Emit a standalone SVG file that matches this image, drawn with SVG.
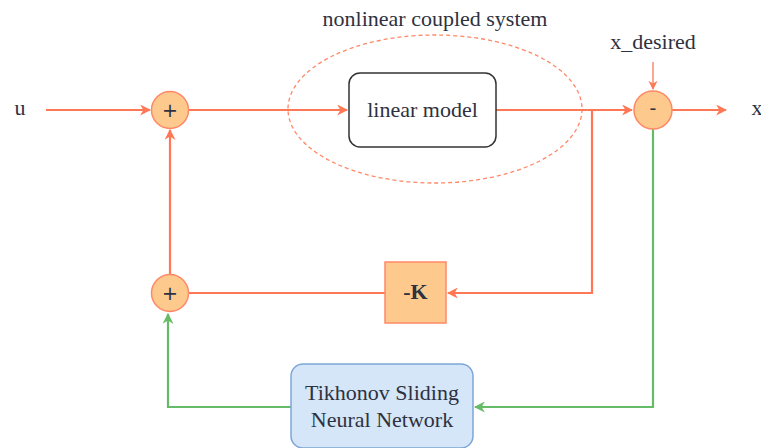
<svg xmlns="http://www.w3.org/2000/svg" width="761" height="448" viewBox="0 0 761 448">
  <defs>
    <marker id="arrO" viewBox="0 0 10 10" refX="9" refY="5" markerWidth="5" markerHeight="5" orient="auto" markerUnits="strokeWidth">
      <path d="M0,0 L10,5 L0,10 L3,5 Z" fill="#FF7755"/>
    </marker>
    <marker id="arrOs" viewBox="0 0 10 10" refX="9" refY="5" markerWidth="7" markerHeight="7" orient="auto" markerUnits="strokeWidth">
      <path d="M0,0 L10,5 L0,10 L3,5 Z" fill="#FF7755"/>
    </marker>
    <marker id="arrG" viewBox="0 0 10 10" refX="9" refY="5" markerWidth="5" markerHeight="5" orient="auto" markerUnits="strokeWidth">
      <path d="M0,0 L10,5 L0,10 L3,5 Z" fill="#66BB66"/>
    </marker>
  </defs>
  <style>
    .txt { font-family: "Liberation Serif", "DejaVu Serif", serif; fill: #2E3140; font-size: 22px; }
    .sign { font-family: "DejaVu Sans", sans-serif; fill: #2E3140; font-size: 19px; }
    .sum { fill: #FDC98D; stroke: #FF8866; stroke-width: 1.5; }
    .wire { fill: none; stroke: #FF7755; stroke-width: 2.2; }
    .wire-thin { fill: none; stroke: #FF7755; stroke-width: 1.3; }
    .fb { fill: none; stroke: #66BB66; stroke-width: 2.2; }
  </style>
  <rect width="761" height="448" fill="#FFFFFF"/>

  <!-- plant boundary -->
  <g id="plant">
    <ellipse cx="435" cy="109" rx="147" ry="74" fill="none" stroke="#FF8866" stroke-width="1.3" stroke-dasharray="4 3"/>
    <text class="txt" x="435" y="26" text-anchor="middle">nonlinear coupled system</text>
  </g>

  <!-- connectors -->
  <g id="connectors">
    <line class="wire" x1="46" y1="110" x2="150" y2="110" marker-end="url(#arrO)"/>
    <line class="wire" x1="189" y1="110" x2="347" y2="110" marker-end="url(#arrO)"/>
    <line class="wire" x1="496" y1="110" x2="632" y2="110" marker-end="url(#arrO)"/>
    <line class="wire" x1="672" y1="110" x2="726" y2="110" marker-end="url(#arrO)"/>
    <line class="wire-thin" x1="653" y1="62" x2="653" y2="89" marker-end="url(#arrOs)"/>
    <polyline class="wire" points="592,110 592,293 448,293" marker-end="url(#arrO)"/>
    <line class="wire" x1="385" y1="293" x2="188" y2="293"/>
    <line class="wire" x1="170" y1="275" x2="170" y2="130" marker-end="url(#arrO)"/>
    <polyline class="fb" points="653,129 653,407 475,407" marker-end="url(#arrG)"/>
    <polyline class="fb" points="291,407 168,407 168,314" marker-end="url(#arrG)"/>
  </g>

  <g id="input-u">
    <text class="txt" x="20" y="115" text-anchor="middle">u</text>
  </g>

  <g id="sum1">
    <circle class="sum" cx="170" cy="110" r="18.5"/>
    <text class="sign" x="170" y="117" text-anchor="middle">+</text>
  </g>

  <g id="linear-model">
    <rect x="349" y="73" width="147" height="74" rx="11" fill="#FFFFFF" stroke="#333333" stroke-width="1.5"/>
    <text class="txt" x="422.5" y="117" text-anchor="middle">linear model</text>
  </g>

  <g id="error">
    <circle class="sum" cx="653" cy="110" r="19"/>
    <text class="sign" x="653" y="115" font-size="15" text-anchor="middle">-</text>
  </g>

  <g id="x-desired">
    <text class="txt" x="653" y="49" text-anchor="middle">x_desired</text>
  </g>

  <g id="output-x">
    <text class="txt" x="757" y="115" text-anchor="middle">x</text>
  </g>

  <g id="gain">
    <rect x="385" y="262" width="61" height="61" fill="#FDC98D" stroke="#FF8866" stroke-width="1.5"/>
    <text class="txt" x="415.5" y="299" font-size="18" font-weight="bold" text-anchor="middle">-K</text>
  </g>

  <g id="sum2">
    <circle class="sum" cx="170" cy="293" r="18.5"/>
    <text class="sign" x="170" y="300" text-anchor="middle">+</text>
  </g>

  <g id="tsnn">
    <rect x="291" y="364" width="182" height="84" rx="12" fill="#D4E6F8" stroke="#7EA6D6" stroke-width="1.5"/>
    <text class="txt" x="382" y="400" text-anchor="middle">Tikhonov Sliding</text>
    <text class="txt" x="382" y="427" text-anchor="middle">Neural Network</text>
  </g>
</svg>
